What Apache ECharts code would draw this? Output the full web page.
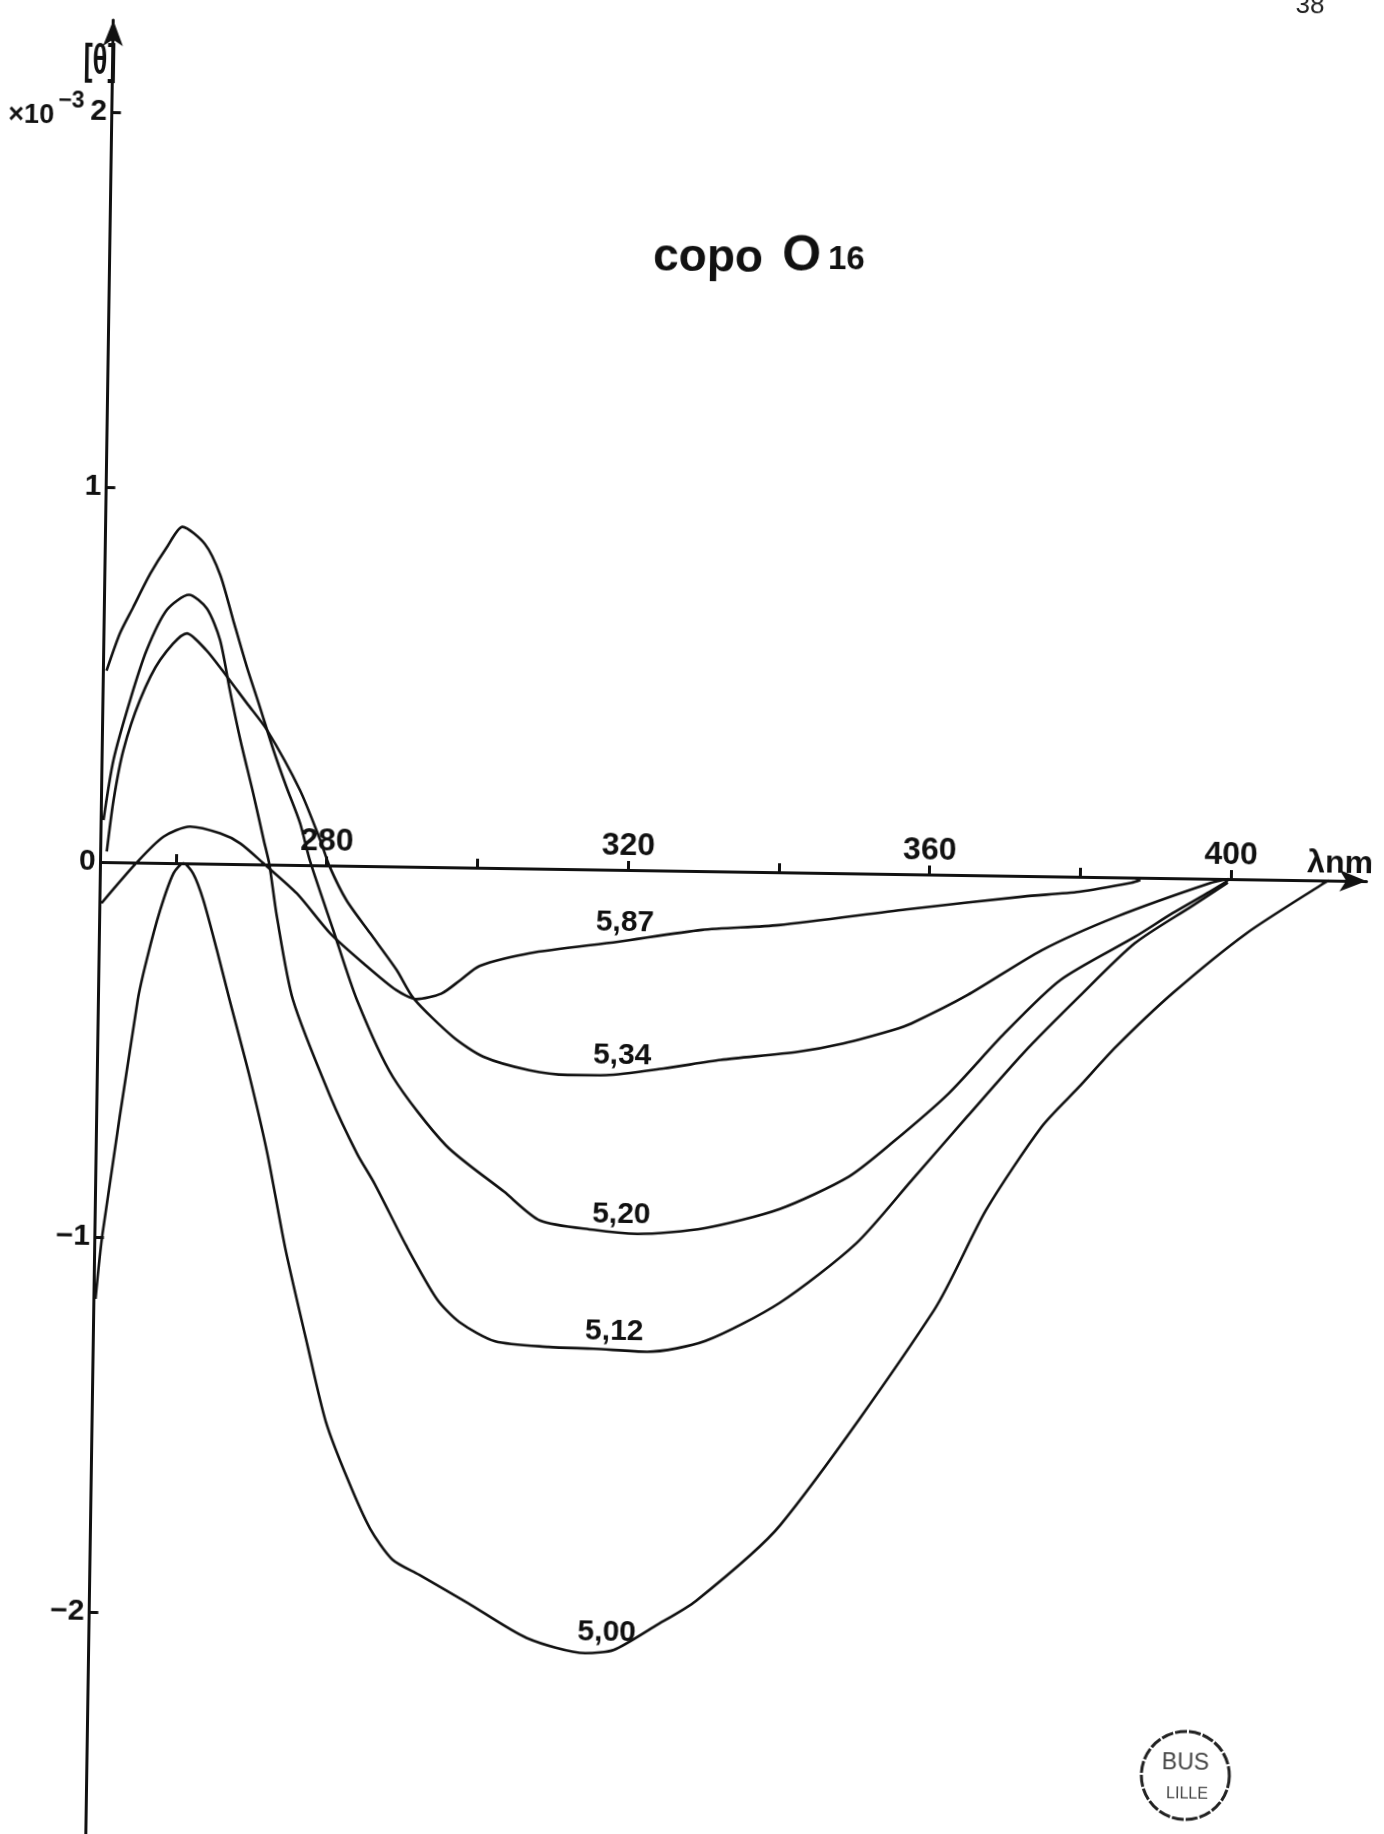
<!DOCTYPE html>
<html>
<head>
<meta charset="utf-8">
<title>copo O16</title>
<script src="https://cdn.jsdelivr.net/npm/echarts@6/dist/echarts.min.js"></script>
<style>
  html, body { margin: 0; padding: 0; background: #fff; width: 1384px; height: 1834px; overflow: hidden; }
  /* the sheet sits slightly askew, as on the scanned page */
  #page {
    position: absolute; left: -50px; top: -50px;
    width: 1484px; height: 1934px; background: #fff;
    transform-origin: 150.6px 912px;
    transform: rotate(0.865deg);
  }
</style>
</head>
<body>
<div id="page"></div>
<script>
// CD spectra of copolymer O16, [θ]·10^-3 versus wavelength (nm), one curve per pH.
const pH587 = [[250.2,-0.110],[254.8,0.000],[258.3,0.070],[261.8,0.098],[265.8,0.081],[268.5,0.055],
  [271.6,0.003],[276.1,-0.076],[280.6,-0.181],[285.1,-0.260],[289.5,-0.330],[292.2,-0.353],[295.5,-0.337],
  [298.0,-0.300],[300.5,-0.262],[307.1,-0.226],[318.8,-0.192],[329.9,-0.157],[340.1,-0.141],[357.0,-0.094],
  [372.5,-0.055],[379.9,-0.040],[386.8,-0.014],[388.0,-0.006]];

const pH534 = [[250.8,0.028],[251.6,0.166],[252.8,0.299],[254.9,0.433],[257.5,0.541],[261.0,0.613],
  [263.6,0.569],[265.6,0.520],[269.1,0.429],[271.8,0.359],[276.3,0.200],[279.1,0.067],[280.4,-0.003],
  [282.7,-0.092],[285.9,-0.179],[289.5,-0.276],[291.8,-0.351],[297.1,-0.452],[301.2,-0.504],[307.3,-0.538],
  [312.4,-0.549],[317.5,-0.548],[325.1,-0.528],[332.7,-0.503],[342.9,-0.478],[348.9,-0.454],[355.5,-0.416],
  [357.9,-0.398],[365.3,-0.320],[375.1,-0.197],[384.9,-0.105],[397.2,-0.012],[399.7,0.000]];

const pH520 = [[250.4,0.510],[252.1,0.610],[253.8,0.680],[256.0,0.770],[258.1,0.840],[260.2,0.897],
  [263.2,0.852],[265.3,0.770],[267.1,0.651],[269.0,0.527],[270.8,0.421],[272.7,0.306],[274.5,0.208],
  [276.4,0.111],[277.8,0.010],[281.0,-0.172],[284.3,-0.358],[289.2,-0.561],[296.4,-0.742],[304.2,-0.863],
  [309.0,-0.938],[316.1,-0.961],[322.0,-0.970],[330.9,-0.952],[340.8,-0.898],[349.9,-0.809],[355.7,-0.715],
  [363.0,-0.583],[370.3,-0.420],[377.6,-0.276],[387.4,-0.158],[392.3,-0.094],[397.2,-0.035],[399.6,-0.005]];

const pH512 = [[250.3,0.112],[251.5,0.272],[253.6,0.433],[255.7,0.567],[258.3,0.675],[261.2,0.716],
  [263.6,0.680],[265.4,0.597],[266.8,0.464],[268.3,0.331],[270.1,0.190],[271.6,0.065],[272.4,0.000],
  [273.5,-0.139],[275.8,-0.360],[280.9,-0.614],[284.6,-0.767],[287.0,-0.847],[291.3,-1.010],[295.5,-1.152],
  [298.5,-1.212],[303.3,-1.262],[310.4,-1.275],[316.4,-1.278],[323.5,-1.284],[331.2,-1.253],[341.0,-1.148],
  [351.0,-0.987],[358.3,-0.815],[365.5,-0.644],[372.8,-0.473],[380.1,-0.320],[387.4,-0.175],[394.8,-0.075],
  [399.6,-0.010]];

const pH500 = [[250.2,-1.165],[251.0,-0.991],[255.2,-0.367],[256.3,-0.260],[258.0,-0.126],[259.7,-0.027],
  [261.0,0.000],[262.3,-0.027],[263.7,-0.097],[265.6,-0.230],[267.4,-0.363],[270.2,-0.566],[272.7,-0.770],
  [275.3,-1.025],[278.4,-1.279],[281.0,-1.483],[284.0,-1.635],[287.1,-1.767],[290.1,-1.848],[293.7,-1.888],
  [300.2,-1.961],[308.1,-2.052],[315.9,-2.090],[319.7,-2.080],[325.1,-2.015],[330.5,-1.946],[341.5,-1.741],
  [361.5,-1.161],[368.2,-0.892],[375.4,-0.668],[380.3,-0.560],[385.1,-0.452],[392.5,-0.307],[402.2,-0.144],
  [412.0,-0.012],[413.0,0.000]];

// axis ticks and labels
const xTicks = [260, 280, 300, 320, 340, 360, 380, 400];
const xTickLabels = [280, 320, 360, 400];
const yTicks = [-2, -1, 0, 1, 2];

const INK = '#111';
const FONT = '"Liberation Sans", Arial, Helvetica, sans-serif';

// each curve is tagged with its pH, written near its trough
const curves = [
  { name: '5,87', data: pH587, labelAt: 319.7 },
  { name: '5,34', data: pH534, labelAt: 319.6 },
  { name: '5,20', data: pH520, labelAt: 319.8 },
  { name: '5,12', data: pH512, labelAt: 319.1 },
  { name: '5,00', data: pH500, labelAt: 318.7 }
];

function valueAt(data, x) {
  for (let i = 1; i < data.length; i++) {
    if (data[i][0] >= x) {
      const [x0, y0] = data[i - 1], [x1, y1] = data[i];
      return y0 + (y1 - y0) * (x - x0) / (x1 - x0);
    }
  }
  return data[data.length - 1][1];
}

const chart = echarts.init(document.getElementById('page'), null, { renderer: 'canvas', width: 1484, height: 1934 });

const axisLineStyle = { color: INK, width: 3 };
const Y_MAX = 2.245, Y_MIN = -2.65;
const PLOT_TOP = 70.1, PLOT_H = 1835.6;

const option = {
  backgroundColor: '#fff',
  animation: false,
  grid: { left: 150.6, top: PLOT_TOP, width: 1266.0, height: PLOT_H, containLabel: false },
  xAxis: {
    type: 'value', min: 250, max: 418,
    // wavelength axis drawn through θ = 0, with its numbers above the line
    position: 'top',
    offset: -PLOT_H * Y_MAX / (Y_MAX - Y_MIN),
    axisLine: { show: true, onZero: false, symbol: ['none', 'arrow'], symbolSize: [16, 27], lineStyle: axisLineStyle },
    axisTick: { show: true, inside: false, length: 9, customValues: xTicks, lineStyle: axisLineStyle },
    axisLabel: { show: true, margin: 8, customValues: xTickLabels,
      color: INK, fontSize: 32, fontWeight: 'bold', fontFamily: FONT },
    splitLine: { show: false }
  },
  yAxis: {
    type: 'value', min: Y_MIN, max: Y_MAX,
    axisLine: { show: true, onZero: false, symbol: ['none', 'arrow'], symbolSize: [15, 26], lineStyle: axisLineStyle },
    axisTick: { show: true, inside: true, length: 9, customValues: yTicks, lineStyle: axisLineStyle },
    axisLabel: { show: true, margin: 5, customValues: yTicks,
      color: INK, fontSize: 30, fontWeight: 'bold', fontFamily: FONT,
      formatter: v => (v < 0 ? '\u2212' + Math.abs(v) : String(v)) },
    splitLine: { show: false }
  },
  series: curves.map(c => ({
    type: 'line',
    name: c.name,
    data: c.data,
    showSymbol: false,
    smooth: 0.25,
    silent: true,
    lineStyle: { color: INK, width: 2.6 },
    markPoint: {
      symbol: 'circle', symbolSize: 0, silent: true,
      data: [{
        coord: [c.labelAt, valueAt(c.data, c.labelAt)],
        label: { show: true, position: 'inside', offset: [0, -18], formatter: c.name,
          color: INK, fontSize: 30, fontWeight: 'bold', fontFamily: FONT }
      }]
    }
  })),
  graphic: [
    // title
    { type: 'text', x: 694, y: 299, style: { text: 'copo', font: 'bold 46px ' + FONT, fill: INK, align: 'left', verticalAlign: 'middle', textAlign: 'left', textVerticalAlign: 'middle' } },
    { type: 'text', x: 823, y: 296, style: { text: 'O', font: 'bold 50px ' + FONT, fill: INK, align: 'left', verticalAlign: 'middle', textAlign: 'left', textVerticalAlign: 'middle' } },
    { type: 'text', x: 869, y: 299, style: { text: '16', font: 'bold 33px ' + FONT, fill: INK, align: 'left', verticalAlign: 'middle', textAlign: 'left', textVerticalAlign: 'middle' } },
    // y-axis quantity and scale factor
    { type: 'text', x: 138, y: 112, scaleX: 0.65, style: { text: '[\u03B8]', font: 'bold 42px ' + FONT, fill: INK, align: 'center', verticalAlign: 'middle', textAlign: 'center', textVerticalAlign: 'middle' } },
    { type: 'text', x: 70, y: 167, style: { text: '\u00D710', font: 'bold 27px ' + FONT, fill: INK, align: 'center', verticalAlign: 'middle', textAlign: 'center', textVerticalAlign: 'middle' } },
    { type: 'text', x: 110, y: 152, style: { text: '\u22123', font: 'bold 23px ' + FONT, fill: INK, align: 'center', verticalAlign: 'middle', textAlign: 'center', textVerticalAlign: 'middle' } },
    // x-axis quantity
    { type: 'text', x: 1390, y: 895, style: { text: '\u03BBnm', font: 'bold 32px ' + FONT, fill: INK, align: 'center', verticalAlign: 'middle', textAlign: 'center', textVerticalAlign: 'middle' } },
    // page number
    { type: 'text', x: 1347, y: 38, style: { text: '38', font: '26px ' + FONT, fill: '#222', align: 'center', verticalAlign: 'middle', textAlign: 'center', textVerticalAlign: 'middle' } },
    // library stamp
    { type: 'circle', shape: { cx: 1249, cy: 1809, r: 44 }, style: { fill: 'none', stroke: '#222', lineWidth: 3, lineDash: [12, 2] } },
    { type: 'text', x: 1249, y: 1797, style: { text: 'BUS', font: '23px ' + FONT, fill: '#444', align: 'center', verticalAlign: 'middle', textAlign: 'center', textVerticalAlign: 'middle' } },
    { type: 'text', x: 1251, y: 1828, style: { text: 'LILLE', font: '16px ' + FONT, fill: '#444', align: 'center', verticalAlign: 'middle', textAlign: 'center', textVerticalAlign: 'middle' } }
  ]
};

chart.setOption(option);
</script>
</body>
</html>
